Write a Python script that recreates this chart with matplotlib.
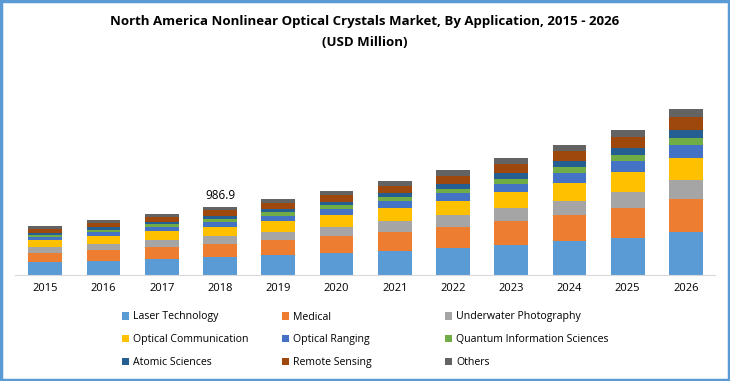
import numpy as np
import matplotlib
matplotlib.use('Agg')
import matplotlib.pyplot as plt
from matplotlib.patches import Rectangle

plt.rcParams['font.family'] = ['Open Sans', 'DejaVu Sans']

years = ['2015', '2016', '2017', '2018', '2019', '2020',
         '2021', '2022', '2023', '2024', '2025', '2026']

segments = ['Laser Technology', 'Medical', 'Underwater Photography',
            'Optical Communication', 'Optical Ranging', 'Quantum Information Sciences',
            'Atomic Sciences', 'Remote Sensing', 'Others']

# USD million
laser = [194, 203, 232, 261, 290, 319, 348, 397, 436, 494, 542, 629]
medical = [126, 160, 174, 189, 218, 247, 276, 300, 348, 378, 436, 474]
underwater = [87, 87, 102, 116, 116, 131, 160, 174, 189, 203, 232, 281]
optical_comm = [106, 116, 131, 131, 160, 174, 189, 203, 232, 261, 290, 315]
optical_ranging = [39, 58, 58, 73, 73, 87, 102, 116, 116, 145, 155, 189]
quantum = [29, 29, 44, 44, 58, 53, 58, 58, 73, 87, 87, 106]
atomic = [24, 44, 29, 44, 44, 48, 58, 77, 87, 87, 106, 116]
remote = [58, 58, 73, 87, 87, 102, 102, 116, 136, 145, 155, 184]
others = [48, 44, 44, 41.9, 58, 58, 73, 82, 82, 87, 106, 116]

colors = ['#5B9BD5', '#ED7D31', '#A5A5A5', '#FFC000', '#4472C4',
          '#70AD47', '#255E91', '#9E480E', '#636363']

series = [laser, medical, underwater, optical_comm, optical_ranging,
          quantum, atomic, remote, others]

fig = plt.figure(figsize=(7.3, 3.81), dpi=100)
ax = fig.add_axes([15 / 730, 1 - 275 / 381, 700 / 730, 180 / 381])

x = np.arange(len(years))
bottom = np.zeros(len(years))
for vals, col, name in zip(series, colors, segments):
    ax.bar(x, vals, bottom=bottom, width=0.58, color=col, label=name)
    bottom += np.array(vals)

totals = bottom
ax.text(3, totals[3] + 70, f'{totals[3]:.1f}', ha='center', va='bottom', fontsize=8.5)

ax.set_xlim(-0.52, 11.5)
ax.set_ylim(0, 2615)
ax.set_xticks(x)
ax.set_xticklabels(years, fontsize=8)
ax.tick_params(axis='x', length=0, pad=6)
ax.set_yticks([])
for s in ['top', 'right', 'left']:
    ax.spines[s].set_visible(False)
ax.spines['bottom'].set_color('#D9D9D9')

fig.text(0.5, 1 - 22 / 381, 'North America Nonlinear Optical Crystals Market, By Application, 2015 - 2026',
         ha='center', va='center', fontsize=9.5, fontweight='bold')
fig.text(0.5, 1 - 42 / 381, '(USD Million)', ha='center', va='center',
         fontsize=9.5, fontweight='bold')

# legend: three fixed-position columns, rows read across
handles, labels = ax.get_legend_handles_labels()
col_x = [112, 272, 435]
for c in range(3):
    idx = [c, c + 3, c + 6]
    fig.legend([handles[i] for i in idx], [labels[i] for i in idx],
               loc='upper left', bbox_to_anchor=(col_x[c] / 730, 1 - 302 / 381),
               frameon=False, fontsize=7.6, handlelength=0.7, handleheight=0.7,
               handletextpad=0.4, labelspacing=1.12)

fig.patches.append(Rectangle((0.001, 0.002), 0.997, 0.995, transform=fig.transFigure,
                             fill=False, edgecolor='#5B9BD5', linewidth=2.5))

plt.savefig('out.png', dpi=100)
